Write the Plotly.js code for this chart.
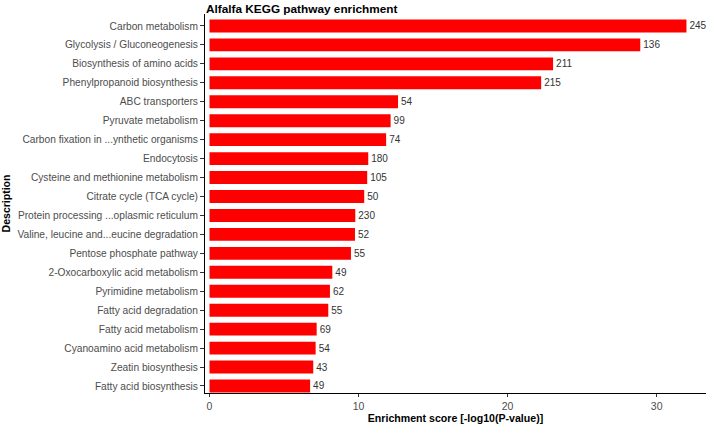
<!DOCTYPE html>
<html>
<head>
<meta charset="utf-8">
<script src="https://cdn.plot.ly/plotly-3.0.1.min.js"></script>
<style>html,body{margin:0;padding:0;background:#fff;}#chart{width:708px;height:424px;}</style>
</head>
<body>
<div id="chart"></div>
<script>
const pathways = [
  "Carbon metabolism",
  "Glycolysis / Gluconeogenesis",
  "Biosynthesis of amino acids",
  "Phenylpropanoid biosynthesis",
  "ABC transporters",
  "Pyruvate metabolism",
  "Carbon fixation in ...ynthetic organisms",
  "Endocytosis",
  "Cysteine and methionine metabolism",
  "Citrate cycle (TCA cycle)",
  "Protein processing ...oplasmic reticulum",
  "Valine, leucine and...eucine degradation",
  "Pentose phosphate pathway",
  "2-Oxocarboxylic acid metabolism",
  "Pyrimidine metabolism",
  "Fatty acid degradation",
  "Fatty acid metabolism",
  "Cyanoamino acid metabolism",
  "Zeatin biosynthesis",
  "Fatty acid biosynthesis"
];
const enrichmentScore = [32.0, 28.9, 23.05, 22.25, 12.65, 12.15, 11.85, 10.65, 10.58, 10.38,
                         9.78, 9.76, 9.49, 8.24, 8.08, 7.97, 7.19, 7.12, 6.96, 6.75];
const geneCount = [245, 136, 211, 215, 54, 99, 74, 180, 105, 50,
                   230, 52, 55, 49, 62, 55, 69, 54, 43, 49];
const xTicks = [0, 10, 20, 30];

const font = "Liberation Sans, Arial, Helvetica, sans-serif";

const trace = {
  type: "bar",
  orientation: "h",
  x: enrichmentScore,
  y: pathways,
  text: geneCount.map(String),
  textposition: "outside",
  constraintext: "none",
  cliponaxis: false,
  textfont: {family: font, size: 10, color: "#333333"},
  marker: {color: "#FF0000", line: {width: 0}},
  hoverinfo: "x+y"
};

const layout = {
  width: 708,
  height: 424,
  margin: {l: 205, r: 2, t: 14, b: 31, pad: 0},
  paper_bgcolor: "#ffffff",
  plot_bgcolor: "#ffffff",
  bargap: 0.32,
  showlegend: false,
  font: {family: font, color: "#4d4d4d"},
  title: {
    text: "<b>Alfalfa KEGG pathway enrichment</b>",
    font: {family: font, size: 11.8, color: "#000000"},
    x: 0, xanchor: "left", xref: "paper",
    y: 1 - 8.5/424, yref: "container", yanchor: "middle", pad: {t: 0, b: 0, l: 1}
  },
  xaxis: {
    range: [-0.302, 33.31],
    tickvals: xTicks,
    ticktext: xTicks.map(String),
    ticks: "outside", ticklen: 3, tickwidth: 1, tickcolor: "#333333",
    showline: true, linecolor: "#000000", linewidth: 1,
    showgrid: false, zeroline: false,
    tickfont: {family: font, size: 10.5, color: "#4d4d4d"},
    title: {text: "<b>Enrichment score [-log10(P-value)]</b>", font: {family: font, size: 10.6, color: "#000000"}, standoff: 3}
  },
  yaxis: {
    type: "category",
    categoryorder: "array",
    categoryarray: pathways,
    range: [19.37, -0.63],
    ticks: "outside", ticklen: 4, tickwidth: 1, tickcolor: "#333333",
    showline: true, linecolor: "#000000", linewidth: 1,
    showgrid: false, zeroline: false,
    tickfont: {family: font, size: 10.2, color: "#4d4d4d"},
    title: {text: "<b>Description</b>", font: {family: font, size: 10.5, color: "#000000"}, standoff: 4}
  }
};

Plotly.newPlot("chart", [trace], layout, {displayModeBar: false, staticPlot: true});
</script>
</body>
</html>
